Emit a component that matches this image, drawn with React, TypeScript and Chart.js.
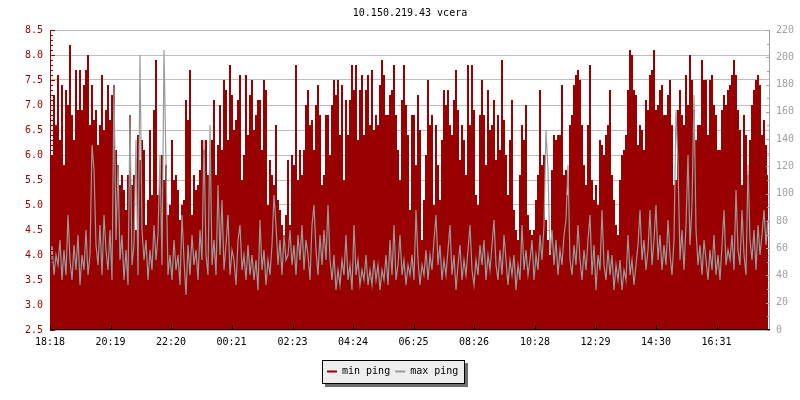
import React, { useEffect, useRef } from "react";
import { Chart, registerables } from "chart.js";

Chart.register(...registerables);

const TITLE = "10.150.219.43 vcera";
const SERIES_NAMES = ["min ping", "max ping"];
const START_TIME = "18:18";
const SAMPLE_MINUTES = 4;
const DAY_MINUTES = 1440;
const TICK_LABELS = ["18:18", "20:19", "22:20", "00:21", "02:23", "04:24", "06:25", "08:26", "10:28", "12:29", "14:30", "16:31"];
const LEFT_MIN = 2.5;
const LEFT_MAX = 8.5;
const LEFT_STEP = 0.5;
const RIGHT_MIN = 0;
const RIGHT_MAX = 220;
const RIGHT_STEP = 20;

const minPing = [
  5.0, 6.0, 7.2, 6.6, 7.6, 6.3, 7.4, 5.8, 7.3, 7.0, 8.2, 6.8, 6.3, 7.7, 6.9, 7.7, 6.9, 7.4, 7.7, 8.0,
  6.6, 7.4, 6.7, 6.9, 6.2, 6.6, 7.6, 6.5, 6.9, 7.4, 6.7, 7.2, 7.4, 6.1, 5.8, 5.4, 5.6, 5.3, 4.9, 5.6,
  6.8, 5.4, 5.6, 4.5, 6.4, 5.9, 6.3, 6.1, 4.6, 5.1, 6.5, 5.2, 6.9, 7.9, 5.2, 5.6, 6.0, 5.5, 5.8, 4.8,
  5.0, 6.3, 5.5, 5.6, 5.3, 4.7, 5.0, 5.1, 7.1, 6.7, 7.7, 4.8, 5.6, 5.3, 5.4, 5.7, 6.3, 6.1, 6.3, 5.6,
  5.7, 6.3, 7.1, 5.6, 6.2, 7.0, 6.1, 7.5, 7.3, 6.3, 7.8, 7.2, 6.5, 6.7, 7.1, 7.6, 5.5, 6.0, 7.6, 6.4,
  7.2, 7.5, 6.5, 6.8, 7.1, 7.1, 6.1, 7.5, 7.3, 5.0, 5.9, 5.6, 5.4, 6.6, 5.1, 4.9, 4.6, 4.4, 4.8, 5.9,
  4.6, 6.0, 5.8, 7.8, 5.5, 6.1, 5.6, 6.1, 7.0, 7.3, 6.6, 6.7, 6.1, 7.0, 7.4, 6.8, 5.4, 5.6, 6.8, 6.8,
  6.0, 7.0, 7.5, 7.2, 7.5, 6.4, 7.4, 5.5, 7.1, 6.4, 7.1, 7.8, 7.3, 7.8, 6.3, 7.3, 7.6, 6.4, 7.3, 7.6,
  6.6, 7.7, 6.5, 6.8, 6.6, 7.4, 7.9, 7.6, 6.8, 6.8, 7.2, 7.3, 7.8, 6.8, 6.1, 5.5, 7.1, 7.8, 7.0, 6.4,
  4.9, 6.8, 6.8, 5.8, 7.2, 6.5, 4.3, 5.1, 6.0, 7.5, 6.6, 6.8, 5.0, 6.6, 5.8, 5.1, 6.3, 7.3, 7.0, 7.3,
  6.6, 6.4, 7.1, 7.7, 6.9, 5.9, 6.6, 6.3, 5.6, 7.8, 6.6, 7.8, 6.9, 5.2, 5.0, 6.8, 7.5, 6.8, 5.8, 7.3,
  6.5, 6.6, 7.1, 5.9, 6.8, 6.1, 7.9, 6.7, 6.0, 5.2, 6.3, 7.1, 4.9, 4.5, 4.3, 5.6, 6.6, 6.3, 7.0, 4.8,
  4.5, 4.4, 4.5, 5.1, 5.6, 7.3, 5.8, 6.0, 4.7, 4.3, 4.0, 5.7, 6.4, 6.3, 6.4, 6.4, 7.4, 5.6, 5.7, 5.2,
  6.6, 6.8, 7.4, 7.6, 7.7, 7.5, 6.6, 5.8, 5.4, 6.6, 7.8, 5.5, 5.1, 5.4, 5.0, 6.3, 6.2, 6.0, 6.4, 6.6,
  7.3, 5.6, 5.1, 4.6, 4.4, 5.5, 6.0, 6.1, 6.4, 7.3, 8.1, 8.0, 7.3, 7.2, 6.2, 6.6, 6.5, 6.1, 7.1, 6.9,
  7.6, 7.7, 8.1, 6.9, 7.0, 7.3, 7.4, 6.8, 6.8, 7.2, 7.5, 6.6, 5.4, 5.5, 6.9, 7.3, 6.8, 6.6, 7.6, 7.0,
  8.0, 7.5, 6.9, 6.3, 6.6, 6.6, 7.9, 7.5, 7.5, 6.4, 7.5, 7.6, 7.0, 6.8, 6.1, 6.1, 6.9, 7.2, 7.0, 7.3,
  7.4, 7.6, 7.9, 7.6, 6.9, 6.5, 5.4, 6.8, 6.4, 5.6, 6.3, 7.0, 7.3, 7.5, 7.6, 7.4, 6.4, 6.7, 6.2, 5.6,
];

const maxPing = [
  3.7, 4.2, 3.6, 4.0, 3.8, 4.3, 3.5, 4.1, 3.6, 4.8, 3.9, 3.5, 4.2, 3.7, 4.4, 3.4, 4.0, 3.7, 4.5, 3.6,
  4.0, 6.2, 5.7, 4.2, 3.8, 4.6, 3.6, 4.8, 4.1, 3.7, 4.5, 3.5, 7.4, 4.3, 5.8, 3.9, 4.4, 3.5, 4.1, 3.4,
  6.8, 3.8, 4.2, 6.3, 3.6, 8.0, 4.5, 3.9, 4.3, 3.5, 4.1, 3.7, 4.6, 3.9, 4.4, 6.0, 3.8, 8.1, 5.8, 3.6,
  4.0, 3.5, 4.3, 3.7, 4.0, 3.4, 4.8, 3.9, 3.2, 4.2, 3.6, 4.4, 3.8, 4.1, 3.5, 4.5, 3.9, 6.3, 4.0, 3.6,
  6.6, 3.8, 4.3, 3.6, 5.4, 4.0, 5.1, 3.7, 4.2, 4.8, 3.6, 4.1, 3.9, 3.4, 4.3, 4.6, 3.7, 4.0, 3.5, 4.2,
  3.6, 4.0, 3.5, 3.9, 3.3, 4.7, 3.7, 4.1, 3.4, 3.9, 3.6, 4.2, 5.2, 4.6, 3.8, 4.3, 3.6, 4.4, 3.9, 4.0,
  4.5, 3.8, 4.2, 3.6, 4.4, 3.9, 4.6, 3.7, 4.3, 4.0, 3.5, 4.6, 5.0, 4.1, 3.6, 4.4, 3.8, 4.5, 3.9, 5.0,
  3.9, 3.5, 4.0, 3.3, 3.7, 3.4, 3.9, 3.6, 4.4, 3.5, 3.8, 3.3, 4.6, 3.6, 3.9, 3.4, 3.7, 3.5, 4.0, 3.4,
  3.7, 3.4, 3.9, 3.5, 3.8, 3.3, 3.7, 3.5, 4.0, 3.4, 4.3, 3.6, 4.6, 3.5, 3.8, 4.4, 3.6, 3.9, 3.4, 3.8,
  3.6, 4.0, 3.5, 4.9, 3.9, 3.4, 3.8, 3.6, 4.1, 3.5, 4.0, 3.7, 4.3, 4.8, 3.8, 4.2, 3.5, 3.9, 3.6, 4.1,
  4.6, 3.6, 4.0, 3.3, 3.8, 4.2, 3.5, 3.9, 3.6, 4.1, 4.6, 3.7, 3.4, 3.9, 3.6, 4.2, 3.8, 4.3, 3.5, 4.0,
  3.7, 4.2, 4.7, 3.8, 3.5, 4.1, 3.6, 4.4, 3.9, 3.4, 3.9, 3.6, 4.0, 3.3, 3.8, 3.5, 4.6, 3.7, 4.1, 3.6,
  3.9, 4.3, 3.5, 4.0, 3.7, 4.4, 3.9, 4.6, 6.5, 5.7, 4.0, 4.5, 3.8, 4.3, 3.6, 4.1, 3.8, 4.4, 4.7, 5.8,
  3.9, 3.6, 4.2, 3.8, 4.6, 3.9, 3.5, 4.1, 3.7, 4.3, 4.8, 3.6, 4.2, 3.3, 4.0, 3.7, 4.9, 3.8, 3.5, 4.1,
  3.6, 4.0, 3.3, 3.8, 3.5, 3.9, 3.3, 3.7, 3.5, 4.4, 3.6, 3.9, 3.4, 3.8, 4.2, 4.9, 3.9, 4.3, 3.7, 4.1,
  4.9, 3.8, 4.3, 5.0, 3.9, 4.4, 3.7, 4.2, 3.8, 4.7, 4.0, 3.6, 4.3, 6.9, 5.8, 3.9, 4.5, 3.7, 4.6, 6.0,
  4.2, 5.0, 7.2, 4.5, 3.8, 4.2, 3.6, 4.3, 3.9, 3.5, 4.1, 3.7, 4.4, 3.6, 4.0, 3.5, 4.2, 4.9, 3.8, 4.1,
  3.9, 4.4, 3.7, 5.3, 4.1, 3.8, 4.9, 4.0, 3.6, 5.8, 4.3, 3.9, 4.5, 3.7, 4.6, 4.0, 4.4, 4.9, 4.2, 4.7,
];

const RED = "#990000";
const GRAY_LINE = "#9a9a9a";
const RIGHT_AXIS_COLOR = "#a0a0a0";
const GRID_COLOR = "#bebebe";
const FONT = "'DejaVu Sans Mono', monospace";

function toMinutes(label: string) {
  const [h, m] = label.split(":").map(Number);
  return h * 60 + m;
}

const startMin = toMinutes(START_TIME);
const tickMinutes = TICK_LABELS.map((l) => (toMinutes(l) - startMin + DAY_MINUTES) % DAY_MINUTES);

const overlayPlugin = {
  id: "overlay",
  afterDatasetsDraw(chart: any) {
    const { ctx, chartArea, scales } = chart;
    const { left, right, top, bottom } = chartArea;
    ctx.save();
    ctx.lineWidth = 1;
    ctx.strokeStyle = RED;
    const leftSteps = Math.round((LEFT_MAX - LEFT_MIN) * 10);
    for (let k = 0; k <= leftSteps; k++) {
      const v = LEFT_MIN + k / 10;
      const y = Math.round(scales.y.getPixelForValue(v)) + 0.5;
      const len = k % 5 === 0 ? 5 : 3;
      ctx.beginPath();
      ctx.moveTo(left, y);
      ctx.lineTo(left + len, y);
      ctx.stroke();
    }
    ctx.beginPath();
    ctx.moveTo(left + 0.5, top);
    ctx.lineTo(left + 0.5, bottom);
    ctx.stroke();
    ctx.strokeStyle = RIGHT_AXIS_COLOR;
    const rightSteps = Math.round((RIGHT_MAX - RIGHT_MIN) / 10);
    for (let k = 0; k <= rightSteps; k++) {
      const v = RIGHT_MIN + k * 10;
      const y = Math.round(scales.y1.getPixelForValue(v)) + 0.5;
      const len = k % 2 === 0 ? 4 : 3;
      ctx.beginPath();
      ctx.moveTo(right, y);
      ctx.lineTo(right - len, y);
      ctx.stroke();
    }
    ctx.beginPath();
    ctx.moveTo(right - 0.5, top);
    ctx.lineTo(right - 0.5, bottom);
    ctx.stroke();
    ctx.strokeStyle = "#000";
    ctx.beginPath();
    ctx.moveTo(left, bottom - 0.5);
    ctx.lineTo(right, bottom - 0.5);
    ctx.stroke();
    tickMinutes.forEach((m) => {
      const x = Math.round(scales.x.getPixelForValue(m)) + 0.5;
      ctx.beginPath();
      ctx.moveTo(x, bottom);
      ctx.lineTo(x, bottom - 5);
      ctx.stroke();
    });
    ctx.restore();
  },
  afterDraw(chart: any) {
    const { ctx, chartArea } = chart;
    ctx.save();
    ctx.font = `10px ${FONT}`;
    ctx.fillStyle = "#000";
    ctx.textAlign = "center";
    ctx.textBaseline = "middle";
    ctx.fillText(TITLE, (chartArea.left + chartArea.right) / 2, 13.5);
    const colors = [RED, GRAY_LINE];
    const lx = 322, ly = 360, lh = 23;
    let w = 5;
    SERIES_NAMES.forEach((n) => { w += 15 + ctx.measureText(n).width + 5; });
    w = Math.round(w + 1);
    ctx.fillStyle = "#6e6e6e";
    ctx.fillRect(lx + 3, ly + 3, w + 1, lh + 1);
    ctx.fillStyle = "#eeeeee";
    ctx.fillRect(lx, ly, w, lh);
    ctx.strokeStyle = "#000";
    ctx.lineWidth = 1;
    ctx.strokeRect(lx + 0.5, ly + 0.5, w, lh);
    let x = lx + 5;
    const cy = ly + 11.5;
    ctx.textAlign = "left";
    SERIES_NAMES.forEach((n, i) => {
      ctx.strokeStyle = colors[i];
      ctx.lineWidth = 2;
      ctx.beginPath();
      ctx.moveTo(x, cy);
      ctx.lineTo(x + 10, cy);
      ctx.stroke();
      ctx.fillStyle = "#000";
      ctx.fillText(n, x + 15, cy);
      x += 15 + ctx.measureText(n).width + 5;
    });
    ctx.restore();
  },
};

export default function App() {
  const ref = useRef<HTMLCanvasElement>(null);
  useEffect(() => {
    if (!ref.current) return;
    Chart.defaults.font.family = FONT;
    Chart.defaults.font.size = 10;
    const chart = new Chart(ref.current, {
      type: "line",
      data: {
        datasets: [
          {
            label: SERIES_NAMES[0],
            data: minPing.map((v, i) => ({ x: i * SAMPLE_MINUTES, y: v })),
            borderColor: "transparent",
            borderWidth: 0,
            backgroundColor: RED,
            fill: "start",
            pointRadius: 0,
            stepped: "middle",
            yAxisID: "y",
            order: 2,
          },
          {
            label: SERIES_NAMES[1],
            data: maxPing.map((v, i) => ({ x: i * SAMPLE_MINUTES, y: v })),
            borderColor: GRAY_LINE,
            borderWidth: 1.2,
            fill: false,
            pointRadius: 0,
            tension: 0,
            yAxisID: "y",
            order: 1,
          },
        ],
      },
      options: {
        responsive: false,
        devicePixelRatio: 1,
        animation: false,
        layout: { padding: { top: 30, left: 0, right: 0, bottom: 0 } },
        plugins: {
          legend: { display: false },
          title: { display: false },
          tooltip: { enabled: false },
        },
        scales: {
          x: {
            type: "linear",
            min: 0,
            max: DAY_MINUTES,
            grid: { display: false, drawTicks: false },
            border: { display: false },
            afterBuildTicks: (scale: any) => {
              scale.ticks = tickMinutes.map((v) => ({ value: v }));
            },
            afterFit: (scale: any) => { scale.height = 70; },
            ticks: {
              autoSkip: false,
              maxRotation: 0,
              padding: 6,
              color: "#000",
              font: { family: FONT, size: 10 },
              callback: (_v: any, i: number) => TICK_LABELS[i],
            },
          },
          y: {
            position: "left",
            min: LEFT_MIN,
            max: LEFT_MAX,
            grid: { color: GRID_COLOR, drawTicks: false, lineWidth: 1 },
            border: { display: false },
            afterFit: (scale: any) => { scale.width = 50; },
            ticks: {
              stepSize: LEFT_STEP,
              padding: 7,
              color: RED,
              font: { family: FONT, size: 10 },
              callback: (v: any) => Number(v).toFixed(1),
            },
          },
          y1: {
            position: "right",
            min: RIGHT_MIN,
            max: RIGHT_MAX,
            grid: { display: false, drawTicks: false },
            border: { display: false },
            afterFit: (scale: any) => { scale.width = 30; },
            ticks: {
              stepSize: RIGHT_STEP,
              padding: 6,
              color: RIGHT_AXIS_COLOR,
              font: { family: FONT, size: 10 },
            },
          },
        },
      },
      plugins: [overlayPlugin],
    } as any);
    return () => chart.destroy();
  }, []);
  return (
    <div style={{ position: "fixed", left: 0, top: 0, width: 800, height: 400, background: "#fff" }}>
      <canvas ref={ref} width={800} height={400} />
    </div>
  );
}
